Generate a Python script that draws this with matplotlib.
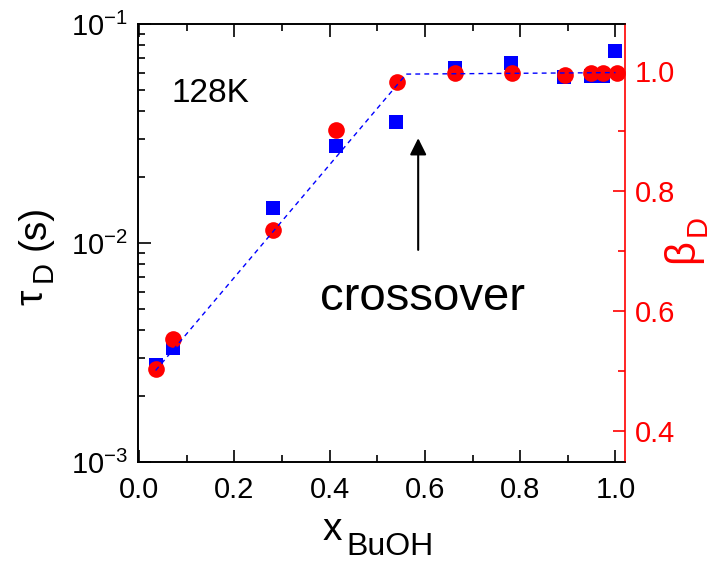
import numpy as np
import matplotlib
matplotlib.use('Agg')
import matplotlib.pyplot as plt
from matplotlib.ticker import MultipleLocator, LogLocator, NullFormatter

plt.rcParams['font.family'] = ['Liberation Sans', 'DejaVu Sans']
plt.rcParams['mathtext.fontset'] = 'custom'
plt.rcParams['mathtext.rm'] = 'Liberation Sans'
plt.rcParams['mathtext.it'] = 'Liberation Sans:italic'

# tau_D (left axis, log)
x_tau = [0.035, 0.072, 0.281, 0.413, 0.540, 0.663, 0.780, 0.892, 0.948, 0.974, 1.000]
tau_D = [2.77e-3, 3.30e-3, 1.45e-2, 2.78e-2, 3.58e-2, 6.28e-2, 6.66e-2, 5.71e-2, 5.79e-2, 5.76e-2, 7.55e-2]

# beta_D (right axis)
x_beta = [0.035, 0.072, 0.282, 0.413, 0.542, 0.663, 0.782, 0.894, 0.948, 0.974, 1.003]
beta_D = [0.503, 0.553, 0.735, 0.902, 0.981, 0.997, 0.997, 0.993, 0.997, 0.997, 0.997]

# guide line
x_guide = [0.035, 0.561, 1.0]
beta_guide = [0.5005, 0.9945, 0.997]

W, H = 711, 561
fig = plt.figure(figsize=(W / 100, H / 100), dpi=100)
ax = fig.add_axes([137.5 / W, 1 - 462 / H, (625 - 137.5) / W, (462 - 24) / H])
ax2 = ax.twinx()

ax.plot(x_tau, tau_D, 's', color='#0000FF', markersize=9.5, markeredgewidth=0)
ax2.plot(x_beta, beta_D, 'o', color='#FF0000', markersize=12, markeredgewidth=0)
ax2.plot(x_guide, beta_guide, color='#0000FF', lw=1.0, dashes=(3.5, 3))

ax.set_yscale('log')
ax.set_xlim(-0.003, 1.02)
ax.set_ylim(1e-3, 1e-1)
ax2.set_ylim(0.348, 1.078)

ax.xaxis.set_major_locator(MultipleLocator(0.2))
ax.xaxis.set_minor_locator(MultipleLocator(0.1))
ax.yaxis.set_major_locator(LogLocator(base=10, numticks=10))
ax.yaxis.set_minor_locator(LogLocator(base=10, subs=np.arange(2, 10), numticks=10))
ax.yaxis.set_minor_formatter(NullFormatter())
ax.xaxis.set_major_formatter(plt.FuncFormatter(lambda v, p: f'{v:.1f}'))
ax2.yaxis.set_major_locator(MultipleLocator(0.2))
ax2.yaxis.set_minor_locator(MultipleLocator(0.1))
ax2.yaxis.set_major_formatter(plt.FuncFormatter(lambda v, p: f'{v:.1f}'))

for s in ax.spines.values():
    s.set_linewidth(1.2)
for s in ax2.spines.values():
    s.set_linewidth(1.2)
ax2.spines['right'].set_color('#FF0000')
ax.spines['right'].set_visible(False)

ax.tick_params(axis='x', which='both', direction='in', top=True, labelsize=21, pad=10, width=1.2)
ax.tick_params(axis='y', which='both', direction='in', right=False, labelsize=21, pad=7, width=1.2)
ax.tick_params(which='major', length=9)
ax.tick_params(which='minor', length=5)
ax2.tick_params(axis='y', which='both', direction='in', colors='#FF0000', labelsize=21, pad=7, width=1.2)
ax2.tick_params(which='major', length=9)
ax2.tick_params(which='minor', length=5)


def label_part(px, py, s, size, color='k', rot=0):
    # place a piece of an axis label by its left-baseline point in pixels
    fig.text(px / W, 1 - py / H, s, fontsize=size, color=color, rotation=rot,
             rotation_mode='anchor', ha='left', va='baseline')


# x axis label
label_part(323, 540, 'x', 28)
label_part(346, 555, 'BuOH', 23)
# left axis label (rotated)
label_part(42, 305, 'τ', 28, rot=90)
label_part(52, 282, 'D', 21, rot=90)
label_part(45, 250, '(s)', 28, rot=90)
# right axis label (rotated)
label_part(693, 263, 'β', 30, color='#FF0000', rot=90)
label_part(706, 236, 'D', 21, color='#FF0000', rot=90)

ax.text(0.068, 0.044, '128K', fontsize=24, va='baseline')
ax.text(0.379, 4.94e-3, 'crossover', fontsize=34, va='baseline')
ax.annotate('', xy=(0.586, 0.0301), xytext=(0.586, 0.0093),
            arrowprops=dict(arrowstyle='-|>', color='k', lw=1.5, mutation_scale=25,
                            shrinkA=0, shrinkB=0))

fig.savefig('out.png', dpi=100)
